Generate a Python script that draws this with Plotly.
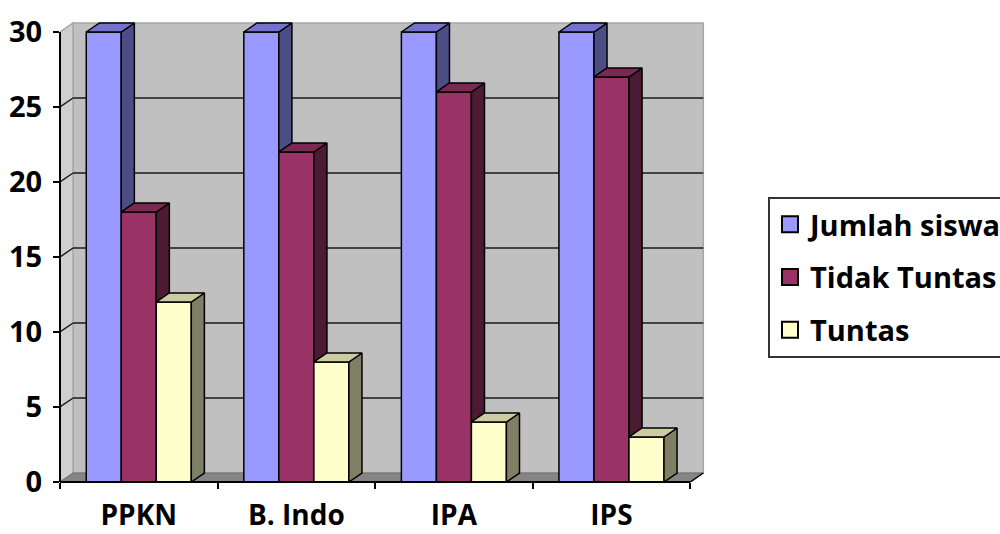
import plotly.graph_objects as go

# ---- data -------------------------------------------------------------
categories = ["PPKN", "B. Indo", "IPA", "IPS"]
series_names = ["Jumlah siswa", "Tidak Tuntas", "Tuntas"]
jumlah_siswa = [30, 30, 30, 30]
tidak_tuntas = [18, 22, 26, 27]
tuntas = [12, 8, 4, 3]
y_ticks = [0, 5, 10, 15, 20, 25, 30]

series_values = [jumlah_siswa, tidak_tuntas, tuntas]

# ---- styling ----------------------------------------------------------
front_colors = ["#9999FF", "#993366", "#FFFFCC"]
side_colors = ["#4D4D86", "#4D1A33", "#7F7F66"]
top_colors = ["#7373CC", "#7A2952", "#CCCCA3"]
FONT = dict(family="Open Sans", size=29, color="#000000", weight="bold")
CAT_FONT = dict(family="Open Sans", size=28, color="#000000", weight="bold")

X0, X1 = -0.5, 3.6          # x-axis range (category units)
Y0, Y1 = 0, 31              # y-axis range
BAR_W = 2 / 9               # three touching bars fill 2/3 of a category
DX, DY = 0.083, 0.6         # depth of the 3-D extrusion, in axis units
EDGE = dict(color="#000000", width=1.5)

L, R, T, B = 60, 294, 17, 52

fig = go.Figure()

# front faces of the bars
for s, (name, vals) in enumerate(zip(series_names, series_values)):
    fig.add_trace(go.Bar(
        x=list(range(len(categories))), y=vals, name=name,
        width=BAR_W, offset=(s - 1.5) * BAR_W,
        marker=dict(color=front_colors[s], line=EDGE),
        legendgroup=name, showlegend=False, hoverinfo="skip",
    ))

# side and top faces, painted series by series so nearer faces cover farther ones
for s, vals in enumerate(series_values):
    side_x, side_y, top_x, top_y = [], [], [], []
    for i, v in enumerate(vals):
        left = i + (s - 1.5) * BAR_W
        right = left + BAR_W
        lo = series_values[s + 1][i] if s + 1 < len(series_values) else 0
        if lo < v:
            side_x += [right, right, right + DX, right + DX, right, None]
            side_y += [lo, v, v + DY, lo + DY, lo, None]
        top_x += [left, right, right + DX, left + DX, left, None]
        top_y += [v, v, v + DY, v + DY, v, None]
    fig.add_trace(go.Scatter(x=side_x, y=side_y, mode="lines", fill="toself",
                             fillcolor=side_colors[s], line=EDGE,
                             showlegend=False, hoverinfo="skip"))
    fig.add_trace(go.Scatter(x=top_x, y=top_y, mode="lines", fill="toself",
                             fillcolor=top_colors[s], line=EDGE,
                             showlegend=False, hoverinfo="skip"))

# legend keys: large square swatches for each series
for s, name in enumerate(series_names):
    fig.add_trace(go.Scatter(
        x=[None], y=[None], mode="markers", name=name, legendgroup=name,
        marker=dict(symbol="square", size=22, color=front_colors[s],
                    line=dict(color="#000000", width=2)),
        hoverinfo="skip",
    ))

# ---- walls, floor and gridlines ---------------------------------------
left_edge, right_edge, top_val = -0.5, len(categories) - 0.5, y_ticks[-1]
shapes = [
    dict(type="rect", xref="x", yref="y", layer="below",
         x0=left_edge + DX, x1=right_edge + DX, y0=DY, y1=top_val + DY,
         fillcolor="#C0C0C0", line=dict(color="#A6A6A6", width=1.5)),
    dict(type="path", xref="x", yref="y", layer="below",
         path=(f"M{left_edge},0 L{left_edge + DX},{DY} "
               f"L{left_edge + DX},{top_val + DY} L{left_edge},{top_val} Z"),
         fillcolor="#CFCFCF", line=dict(color="#A6A6A6", width=1.5)),
    dict(type="path", xref="x", yref="y", layer="below",
         path=(f"M{left_edge},0 L{right_edge},0 L{right_edge + DX},{DY} "
               f"L{left_edge + DX},{DY} Z"),
         fillcolor="#858585", line=dict(color="#6E6E6E", width=1)),
]
for k in y_ticks[1:-1]:
    shapes.append(dict(type="line", xref="x", yref="y", layer="below",
                       x0=left_edge, y0=k, x1=left_edge + DX, y1=k + DY,
                       line=dict(color="#1A1A1A", width=1.5)))
    shapes.append(dict(type="line", xref="x", yref="y", layer="below",
                       x0=left_edge + DX, y0=k + DY, x1=right_edge + DX, y1=k + DY,
                       line=dict(color="#1A1A1A", width=1.5)))


def xd(v):
    return (v - X0) / (X1 - X0)


def yd(v):
    return (v - Y0) / (Y1 - Y0)


# axis lines (domain-referenced so they are not clipped at the plot edge)
shapes += [
    dict(type="line", xref="x domain", yref="y domain",
         x0=xd(left_edge), x1=xd(left_edge), y0=yd(0), y1=yd(top_val),
         line=dict(color="#000000", width=2)),
    dict(type="line", xref="x domain", yref="y domain",
         x0=xd(left_edge), x1=xd(right_edge), y0=yd(0), y1=yd(0),
         line=dict(color="#000000", width=2)),
    dict(type="line", xref="x", yref="y",
         x0=right_edge, x1=right_edge + DX, y0=0, y1=DY,
         line=dict(color="#000000", width=1.5)),
]

fig.update_layout(
    width=1000, height=534,
    margin=dict(l=L, r=R, t=T, b=B, autoexpand=False),
    paper_bgcolor="#FFFFFF", plot_bgcolor="#FFFFFF",
    barmode="overlay",
    shapes=shapes,
    showlegend=True,
    legend=dict(
        x=(768 - L) / (1000 - L - R), y=(482 - 197) / (534 - T - B),
        xanchor="left", yanchor="top", itemsizing="trace",
        font=FONT, bordercolor="#333333", borderwidth=2,
        bgcolor="#FFFFFF", traceorder="grouped", tracegroupgap=12,
    ),
    xaxis=dict(
        range=[X0, X1], showgrid=False, zeroline=False, showline=False,
        tickmode="array", tickvals=list(range(len(categories))),
        ticktext=categories, ticks="", tickfont=CAT_FONT, ticklabelstandoff=14,
        minor=dict(tickmode="array",
                   tickvals=[i - 0.5 for i in range(len(categories) + 1)],
                   ticks="outside", ticklen=6, tickwidth=1.5, tickcolor="#000000"),
    ),
    yaxis=dict(
        range=[Y0, Y1], showgrid=False, zeroline=False, showline=False,
        tickmode="array", tickvals=y_ticks, ticks="outside", ticklen=6,
        tickwidth=1.5, tickcolor="#000000", tickfont=FONT, ticklabelstandoff=5,
    ),
)

fig.write_html("out.html")
